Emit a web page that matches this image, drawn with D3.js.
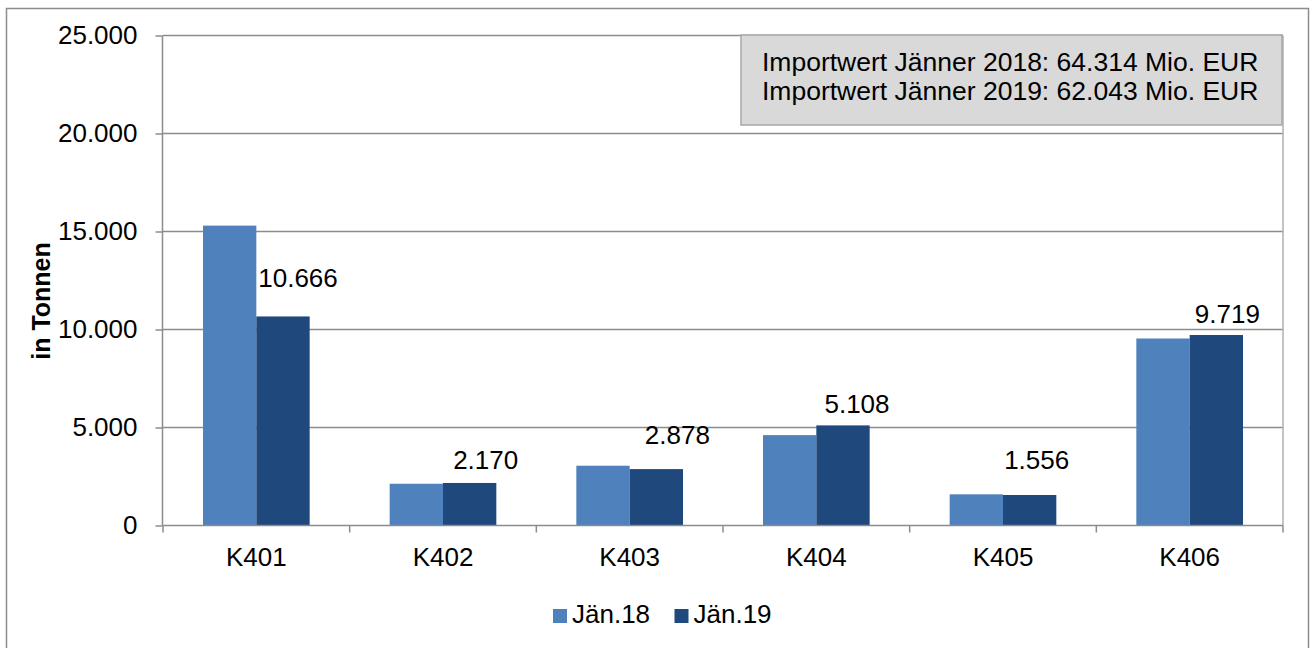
<!DOCTYPE html>
<html>
<head>
<meta charset="utf-8">
<title>Import K401-K406</title>
<script src="https://cdnjs.cloudflare.com/ajax/libs/d3/7.8.5/d3.min.js"></script>
<style>
body { margin: 0; background: #fff; }
svg { display: block; font-family: "Liberation Sans", Arial, Helvetica, sans-serif; }
.tick text, .lbl { font-size: 26px; fill: #000; }
.note { font-size: 26.5px; fill: #000; }
.grid line { stroke: #8c8c8c; stroke-width: 1.5; }
</style>
</head>
<body>
<svg width="1312" height="648"></svg>
<script>
var categories = ["K401", "K402", "K403", "K404", "K405", "K406"];
var seriesNames = ["Jän.18", "Jän.19"];
var jan18 = [15300, 2130, 3050, 4610, 1590, 9540];
var jan19 = [10666, 2170, 2878, 5108, 1556, 9719];
var yTicks = [0, 5000, 10000, 15000, 20000, 25000];
var noteLines = ["Importwert Jänner 2018: 64.314 Mio. EUR",
                 "Importwert Jänner 2019: 62.043 Mio. EUR"];
// hand-placed data labels (like in the original), offset from bar top
var labelNudge = [[15, 29], [16, 14], [21, 25], [14, 12], [7, 26], [11, 12]];

var colors = ["#4f81bd", "#1f497d"];
var de = d3.formatLocale({decimal: ",", thousands: ".", grouping: [3], currency: ["", " €"]});
var fmt = de.format(",.0f");

var svg = d3.select("svg");
var plotL = 163, plotR = 1283, plotT = 36, plotB = 526;

// outer frame
svg.append("rect")
  .attr("x", 6.5).attr("y", 8.5).attr("width", 1302).attr("height", 660)
  .attr("fill", "none").attr("stroke", "#8c8c8c").attr("stroke-width", 1.5);

var x0 = d3.scaleBand().domain(categories).range([plotL, plotR]);
var x1 = d3.scaleBand().domain(seriesNames).range([0, x0.bandwidth()]).paddingOuter(0.75);
var y = d3.scaleLinear().domain([0, 25000]).range([plotB - 0.5, plotT - 0.5]);

// gridlines
svg.append("g").attr("class", "grid")
  .selectAll("line").data(yTicks.slice(1)).enter().append("line")
  .attr("x1", plotL).attr("x2", plotR)
  .attr("y1", function(d) { return y(d); }).attr("y2", function(d) { return y(d); });
svg.append("line")
  .attr("x1", plotR).attr("x2", plotR).attr("y1", y(25000)).attr("y2", y(0))
  .attr("stroke", "#b0b0b0").attr("stroke-width", 1.5);

// bars
var rows = categories.map(function(c, i) { return {cat: c, vals: [jan18[i], jan19[i]]}; });
var grp = svg.append("g").selectAll("g").data(rows).enter().append("g")
  .attr("transform", function(d) { return "translate(" + x0(d.cat) + ",0)"; });
grp.selectAll("rect")
  .data(function(d) { return d.vals.map(function(v, k) { return {s: seriesNames[k], v: v, k: k}; }); })
  .enter().append("rect")
  .attr("x", function(d) { return x1(d.s); })
  .attr("y", function(d) { return y(d.v); })
  .attr("width", x1.bandwidth())
  .attr("height", function(d) { return y(0) - y(d.v); })
  .attr("fill", function(d) { return colors[d.k]; });

// data labels for Jän.19
svg.append("g").selectAll("text").data(rows).enter().append("text")
  .attr("class", "lbl")
  .attr("text-anchor", "middle")
  .attr("x", function(d, i) { return x0(d.cat) + x1("Jän.19") + x1.bandwidth() / 2 + labelNudge[i][0]; })
  .attr("y", function(d, i) { return y(d.vals[1]) - labelNudge[i][1]; })
  .text(function(d) { return fmt(d.vals[1]); });

// y axis
var yAxis = svg.append("g")
  .attr("transform", "translate(" + (plotL - 0.5) + ",0)")
  .call(d3.axisLeft(y).tickValues(yTicks).tickFormat(fmt).tickSize(7).tickPadding(18));
yAxis.selectAll("path, line").attr("stroke", "#8c8c8c").attr("stroke-width", 1.5);
yAxis.select(".domain").attr("d", "M0," + y(25000) + "V" + y(0));

// x axis: labels at centers, ticks at boundaries
var xAxis = svg.append("g")
  .attr("transform", "translate(0," + (plotB - 0.5) + ")")
  .call(d3.axisBottom(x0).tickSize(0).tickPadding(22));
xAxis.select(".domain").attr("stroke", "#8c8c8c").attr("stroke-width", 1.5)
  .attr("d", "M" + plotL + ",0H" + plotR);
xAxis.selectAll(".edge").data(categories.map(function(c) { return x0(c); }).concat([plotR]))
  .enter().append("line").attr("class", "edge")
  .attr("x1", function(d) { return d; }).attr("x2", function(d) { return d; })
  .attr("y1", 0).attr("y2", 7)
  .attr("stroke", "#8c8c8c").attr("stroke-width", 1.5);

// y title
svg.append("text")
  .attr("transform", "translate(50,301) rotate(-90)")
  .attr("text-anchor", "middle")
  .style("font-size", "25px").style("font-weight", "bold")
  .text("in Tonnen");

// note box
var note = svg.append("g");
note.append("rect")
  .attr("x", 741).attr("y", 35).attr("width", 541).attr("height", 90)
  .attr("fill", "#d9d9d9").attr("stroke", "#a6a6a6").attr("stroke-width", 1.5);
note.selectAll("text").data(noteLines).enter().append("text")
  .attr("class", "note")
  .attr("x", 762)
  .attr("y", function(d, i) { return 71 + i * 29; })
  .text(function(d) { return d; });

// legend
var leg = svg.append("g").selectAll("g").data(seriesNames).enter().append("g")
  .attr("transform", function(d, i) { return "translate(" + (553 + i * 121.5) + ",609)"; });
leg.append("rect").attr("width", 14).attr("height", 14)
  .attr("fill", function(d, i) { return colors[i]; });
leg.append("text").attr("class", "lbl")
  .attr("x", 19).attr("y", 14)
  .text(function(d) { return d; });
</script>
</body>
</html>
